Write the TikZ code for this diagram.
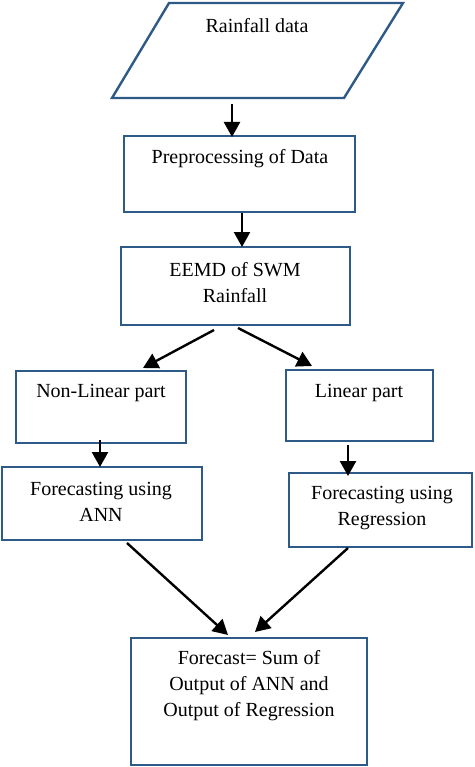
\documentclass[tikz,border=0pt]{standalone}
\usepackage{fontspec}
\setmainfont{Liberation Serif}
\usetikzlibrary{arrows.meta}
\definecolor{boxblue}{HTML}{2E5A88}
\tikzset{
  box/.style={draw=boxblue, line width=2.4pt, fill=white},
  txt/.style={font=\fontsize{20}{26}\selectfont, align=center, inner sep=0pt},
  arr/.style={draw=black, line width=2.4pt, -{Triangle[length=15pt,width=16pt]}}
}
\begin{document}
\begin{tikzpicture}[x=1pt,y=-1pt]
\useasboundingbox (0,0) rectangle (474,767);
% parallelogram
\coordinate (p1) at (169,3);
\coordinate (p2) at (403,3);
\coordinate (p3) at (344,98);
\coordinate (p4) at (112,98);
\draw[box] (p1) -- (p2) -- (p3) -- (p4) -- cycle;
\node[txt] (t0) at (257,26) {Rainfall data};
% boxes
\draw[box] (124,136) rectangle (355,212);
\node[txt] (t1) at (240,159) {Preprocessing of Data};
\draw[box] (121,247) rectangle (350,325);
\node[txt] (t2) at (235,283) {EEMD of SWM\\Rainfall};
\draw[box] (16,371) rectangle (186,443);
\node[txt] (t3) at (101,393) {Non-Linear part};
\draw[box] (286,370) rectangle (433,441);
\node[txt] (t4) at (359,393) {Linear part};
\draw[box] (2,467) rectangle (202,540);
\node[txt] (t5) at (101,502) {Forecasting using\\ANN};
\draw[box] (289,473) rectangle (472,547);
\node[txt] (t6) at (382,508) {Forecasting using\\Regression};
\draw[box] (131,638) rectangle (367,765);
\node[txt] (t7) at (249,686) {Forecast= Sum of\\Output of ANN and\\Output of Regression};
% arrow endpoints
\coordinate (a1s) at (232,104); \coordinate (a1e) at (232,137);
\coordinate (a2s) at (242,213); \coordinate (a2e) at (242,247);
\coordinate (a3s) at (214,330); \coordinate (a3e) at (143,368);
\coordinate (a4s) at (238,328); \coordinate (a4e) at (312,366);
\coordinate (a5s) at (100,440); \coordinate (a5e) at (100,467);
\coordinate (a6s) at (348,445); \coordinate (a6e) at (348,476);
\coordinate (a7s) at (127,543); \coordinate (a7e) at (228,635);
\coordinate (a8s) at (348,548); \coordinate (a8e) at (255,632);
\draw[arr] (a1s) -- (a1e);
\draw[arr] (a2s) -- (a2e);
\draw[arr] (a3s) -- (a3e);
\draw[arr] (a4s) -- (a4e);
\draw[arr] (a5s) -- (a5e);
\draw[arr] (a6s) -- (a6e);
\draw[arr] (a7s) -- (a7e);
\draw[arr] (a8s) -- (a8e);
\end{tikzpicture}
\end{document}
